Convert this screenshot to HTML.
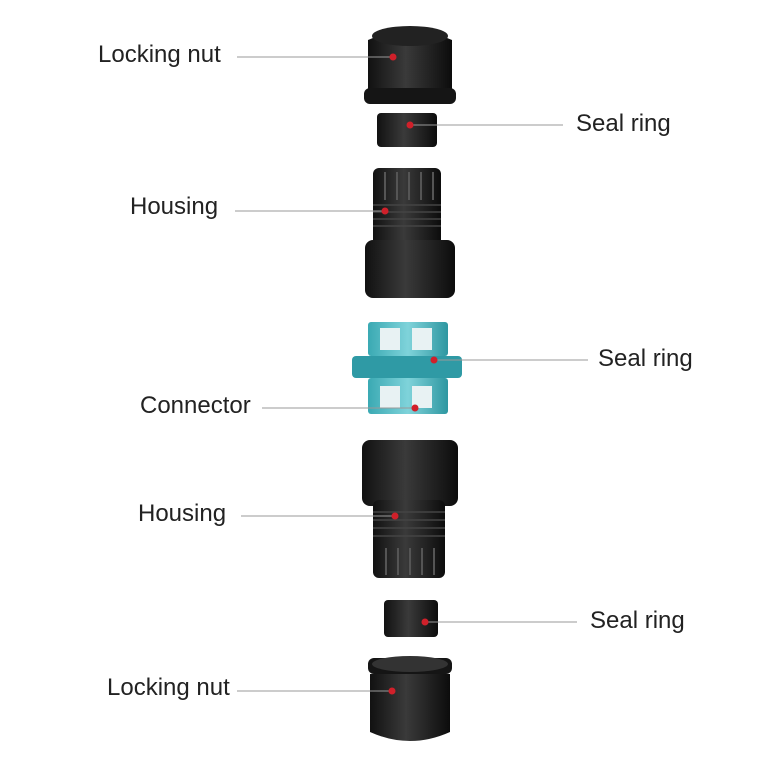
<!DOCTYPE html>
<html><head><meta charset="utf-8"><style>
html,body{margin:0;padding:0;background:#fff;}
body{width:763px;height:765px;position:relative;overflow:hidden;font-family:"Liberation Sans",sans-serif;}
.l{position:absolute;font-size:24px;color:#222;line-height:1;}
</style></head><body>
<svg width="763" height="765" style="position:absolute;left:0;top:0">
<defs>
<linearGradient id="blk" x1="0" x2="1"><stop offset="0" stop-color="#111"/><stop offset="0.45" stop-color="#3a3a3a"/><stop offset="1" stop-color="#0c0c0c"/></linearGradient>
<linearGradient id="tl" x1="0" x2="1"><stop offset="0" stop-color="#3aa9b3"/><stop offset="0.5" stop-color="#7fd3da"/><stop offset="1" stop-color="#2e97a1"/></linearGradient>
</defs>
<path d="M368 40 Q410 22 452 40 L452 92 Q410 106 368 92 Z" fill="url(#blk)"/>
<ellipse cx="410" cy="36" rx="38" ry="10" fill="#222"/>
<rect x="364" y="88" width="92" height="16" rx="6" fill="#151515"/>
<rect x="377" y="113" width="60" height="34" rx="4" fill="url(#blk)"/>
<rect x="373" y="168" width="68" height="80" rx="6" fill="url(#blk)"/>
<g stroke="#555" stroke-width="2"><line x1="385" y1="172" x2="385" y2="200"/><line x1="397" y1="172" x2="397" y2="200"/><line x1="409" y1="172" x2="409" y2="200"/><line x1="421" y1="172" x2="421" y2="200"/><line x1="433" y1="172" x2="433" y2="200"/></g>
<g stroke="#444" stroke-width="1.5"><line x1="373" y1="205" x2="441" y2="205"/><line x1="373" y1="212" x2="441" y2="212"/><line x1="373" y1="219" x2="441" y2="219"/><line x1="373" y1="226" x2="441" y2="226"/></g>
<rect x="365" y="240" width="90" height="58" rx="8" fill="url(#blk)"/>
<rect x="368" y="322" width="80" height="34" rx="3" fill="url(#tl)"/>
<rect x="352" y="356" width="110" height="22" rx="4" fill="#2f9aa5"/>
<rect x="368" y="378" width="80" height="36" rx="3" fill="url(#tl)"/>
<rect x="380" y="328" width="20" height="22" fill="#e8f2f3"/><rect x="412" y="328" width="20" height="22" fill="#e8f2f3"/>
<rect x="380" y="386" width="20" height="22" fill="#e8f2f3"/><rect x="412" y="386" width="20" height="22" fill="#e8f2f3"/>
<rect x="362" y="440" width="96" height="66" rx="8" fill="url(#blk)"/>
<rect x="373" y="500" width="72" height="78" rx="6" fill="url(#blk)"/>
<g stroke="#444" stroke-width="1.5"><line x1="373" y1="512" x2="445" y2="512"/><line x1="373" y1="520" x2="445" y2="520"/><line x1="373" y1="528" x2="445" y2="528"/><line x1="373" y1="536" x2="445" y2="536"/></g>
<g stroke="#555" stroke-width="2"><line x1="386" y1="548" x2="386" y2="575"/><line x1="398" y1="548" x2="398" y2="575"/><line x1="410" y1="548" x2="410" y2="575"/><line x1="422" y1="548" x2="422" y2="575"/><line x1="434" y1="548" x2="434" y2="575"/></g>
<rect x="384" y="600" width="54" height="37" rx="4" fill="url(#blk)"/>
<rect x="368" y="658" width="84" height="16" rx="6" fill="#151515"/>
<ellipse cx="410" cy="664" rx="38" ry="8" fill="#333"/>
<path d="M370 674 L450 674 L450 732 Q410 750 370 732 Z" fill="url(#blk)"/>
<g stroke="#999" stroke-width="1">
<line x1="237" y1="57" x2="393" y2="57"/>
<line x1="410" y1="125" x2="563" y2="125"/>
<line x1="235" y1="211" x2="385" y2="211"/>
<line x1="434" y1="360" x2="588" y2="360"/>
<line x1="262" y1="408" x2="415" y2="408"/>
<line x1="241" y1="516" x2="395" y2="516"/>
<line x1="425" y1="622" x2="577" y2="622"/>
<line x1="237" y1="691" x2="392" y2="691"/>
</g>
<g fill="#d0202a">
<circle cx="393" cy="57" r="3.5"/><circle cx="410" cy="125" r="3.5"/><circle cx="385" cy="211" r="3.5"/>
<circle cx="434" cy="360" r="3.5"/><circle cx="415" cy="408" r="3.5"/><circle cx="395" cy="516" r="3.5"/>
<circle cx="425" cy="622" r="3.5"/><circle cx="392" cy="691" r="3.5"/>
</g>
</svg>
<div class="l" style="left:98px;top:43px">Locking nut</div>
<div class="l" style="left:576px;top:112px">Seal ring</div>
<div class="l" style="left:130px;top:195px">Housing</div>
<div class="l" style="left:598px;top:347px">Seal ring</div>
<div class="l" style="left:140px;top:394px">Connector</div>
<div class="l" style="left:138px;top:502px">Housing</div>
<div class="l" style="left:590px;top:609px">Seal ring</div>
<div class="l" style="left:107px;top:676px">Locking nut</div>
</body></html>
